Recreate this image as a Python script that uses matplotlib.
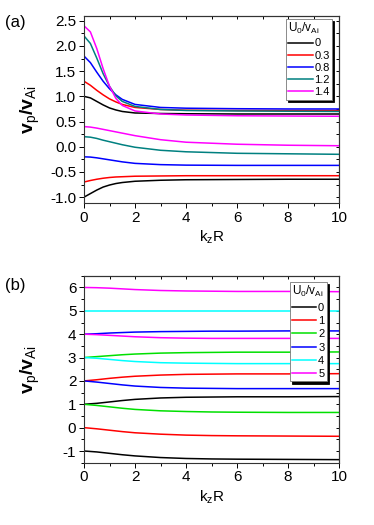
import numpy as np
import matplotlib.pyplot as plt
from matplotlib.ticker import MultipleLocator

plt.rcParams['font.family'] = ['Liberation Sans', 'DejaVu Sans']
plt.rcParams['mathtext.fontset'] = 'custom'
plt.rcParams['mathtext.rm'] = 'Liberation Sans'
plt.rcParams['mathtext.it'] = 'Liberation Sans'
plt.rcParams['mathtext.bf'] = 'Liberation Sans:bold'
plt.rcParams['axes.unicode_minus'] = False

# ---- panel (a) data ----
k_a = [0, 0.25, 0.5, 0.75, 1, 1.25, 1.5, 2, 3, 4, 6, 8, 10]
u0_a = ['0', '0.3', '0.8', '1.2', '1.4']
col_a = ['black', 'red', 'blue', '#008080', 'magenta']
fwd_a = [
    [1.00, 0.97, 0.90, 0.83, 0.77, 0.73, 0.70, 0.67, 0.66, 0.655, 0.65, 0.65, 0.65],
    [1.30, 1.22, 1.12, 1.03, 0.95, 0.89, 0.84, 0.78, 0.74, 0.725, 0.72, 0.72, 0.72],
    [1.80, 1.67, 1.48, 1.30, 1.15, 1.03, 0.94, 0.84, 0.78, 0.765, 0.755, 0.75, 0.75],
    [2.20, 2.05, 1.76, 1.45, 1.20, 1.01, 0.90, 0.80, 0.74, 0.72, 0.71, 0.705, 0.70],
    [2.40, 2.28, 1.95, 1.55, 1.20, 0.96, 0.82, 0.71, 0.65, 0.63, 0.615, 0.61, 0.605],
]
bwd_a = [
    [-1.00, -0.93, -0.86, -0.80, -0.76, -0.73, -0.71, -0.685, -0.665, -0.655, -0.65, -0.645, -0.645],
    [-0.70, -0.67, -0.645, -0.625, -0.61, -0.60, -0.595, -0.585, -0.58, -0.575, -0.575, -0.575, -0.575],
    [-0.20, -0.205, -0.22, -0.24, -0.26, -0.28, -0.30, -0.33, -0.355, -0.365, -0.37, -0.37, -0.37],
    [0.20, 0.19, 0.165, 0.13, 0.10, 0.07, 0.04, -0.01, -0.07, -0.10, -0.13, -0.14, -0.15],
    [0.40, 0.39, 0.37, 0.345, 0.32, 0.295, 0.27, 0.22, 0.14, 0.09, 0.05, 0.03, 0.02],
]

# ---- panel (b) data ----
k_b = [0, 0.5, 1, 1.5, 2, 3, 4, 5, 6, 8, 10]
u0_b = ['0', '1', '2', '3', '4', '5']
col_b = ['black', 'red', '#00e000', 'blue', 'cyan', 'magenta']
fwd_b = [
    [1.00, 1.04, 1.10, 1.16, 1.21, 1.27, 1.30, 1.31, 1.32, 1.32, 1.33],
    [2.00, 2.05, 2.11, 2.16, 2.20, 2.25, 2.28, 2.29, 2.30, 2.30, 2.31],
    [3.00, 3.04, 3.08, 3.12, 3.15, 3.19, 3.21, 3.22, 3.23, 3.23, 3.24],
    [4.00, 4.02, 4.05, 4.07, 4.09, 4.11, 4.12, 4.13, 4.13, 4.14, 4.14],
    [5.00, 5.00, 5.00, 5.00, 5.00, 5.00, 5.00, 5.00, 5.00, 5.00, 5.00],
    [6.00, 5.99, 5.97, 5.94, 5.91, 5.87, 5.85, 5.84, 5.83, 5.83, 5.82],
]
bwd_b = [
    [-1.00, -1.04, -1.10, -1.16, -1.21, -1.28, -1.32, -1.34, -1.35, -1.36, -1.37],
    [0.00, -0.05, -0.11, -0.17, -0.22, -0.28, -0.32, -0.34, -0.35, -0.36, -0.37],
    [1.00, 0.95, 0.89, 0.83, 0.78, 0.72, 0.69, 0.67, 0.66, 0.65, 0.65],
    [2.00, 1.95, 1.89, 1.83, 1.78, 1.72, 1.69, 1.68, 1.67, 1.67, 1.67],
    [3.00, 2.97, 2.92, 2.87, 2.83, 2.78, 2.76, 2.75, 2.74, 2.74, 2.74],
    [4.00, 3.98, 3.95, 3.92, 3.89, 3.85, 3.83, 3.82, 3.82, 3.82, 3.82],
]

fig = plt.figure(figsize=(3.74, 5.25), dpi=100)
ax_a = fig.add_axes([0.2246, 0.613, 0.682, 0.357])
ax_b = fig.add_axes([0.2246, 0.1187, 0.682, 0.356])


def style(ax, ylim, ymaj, ymin):
    ax.set_xlim(0, 10)
    ax.set_ylim(*ylim)
    ax.xaxis.set_major_locator(MultipleLocator(2))
    ax.xaxis.set_minor_locator(MultipleLocator(1))
    ax.yaxis.set_major_locator(MultipleLocator(ymaj))
    ax.yaxis.set_minor_locator(MultipleLocator(ymin))
    ax.tick_params(which='both', direction='out', top=False, right=False, labelsize=11, pad=2)
    ax.tick_params(which='major', length=3.5, width=0.7)
    ax.tick_params(which='minor', length=2, width=0.7)
    sec = ax.secondary_xaxis('top')
    sec.xaxis.set_major_locator(MultipleLocator(1))
    sec.tick_params(direction='in', length=2.5, width=0.7, labeltop=False)
    sec2 = ax.secondary_yaxis('right')
    sec2.yaxis.set_major_locator(MultipleLocator(ymin))
    sec2.tick_params(direction='in', length=2.5, width=0.7, labelright=False)
    for s in list(ax.spines.values()) + [sec.spines['top'], sec2.spines['right']]:
        s.set_linewidth(0.8)
        s.set_color('#333333')
    ax.set_xlabel('k$_z$R', fontsize=11, labelpad=3)
    ax.set_ylabel('v$_p$/v$_{Ai}$', fontsize=14, fontweight='bold')
    ax.yaxis.set_label_coords(-0.165, 0.5)


for i in range(len(u0_a)):
    ax_a.plot(k_a, fwd_a[i], color=col_a[i], lw=1.1, label=u0_a[i])
    ax_a.plot(k_a, bwd_a[i], color=col_a[i], lw=1.1)
style(ax_a, (-1.12, 2.6), 0.5, 0.25)

for i in range(len(u0_b)):
    ax_b.plot(k_b, fwd_b[i], color=col_b[i], lw=1.1, label=u0_b[i])
    ax_b.plot(k_b, bwd_b[i], color=col_b[i], lw=1.1)
style(ax_b, (-1.5, 6.5), 1, 0.5)

shadow = {'color': 'black', 'alpha': 1, 'ox': 1.5, 'oy': -1.5}
for ax, anchor, spacing in [(ax_a, (0.972, 0.983), 0.2), (ax_b, (0.951, 0.967), 0.3)]:
    leg = ax.legend(title='U$_0$/v$_{Ai}$', loc='upper right', bbox_to_anchor=anchor,
                    borderaxespad=0, fontsize=8, title_fontsize=8.5, handlelength=2.2,
                    handletextpad=0.15, labelspacing=spacing, borderpad=0.2,
                    fancybox=False, framealpha=1, edgecolor='#777777', shadow=shadow)
    leg.get_frame().set_linewidth(0.6)
    leg._legend_box.align = 'left'

fig.text(0.013, 0.958, '(a)', fontsize=12, va='center')
fig.text(0.013, 0.457, '(b)', fontsize=12, va='center')

fig.savefig('out.png', dpi=100)
